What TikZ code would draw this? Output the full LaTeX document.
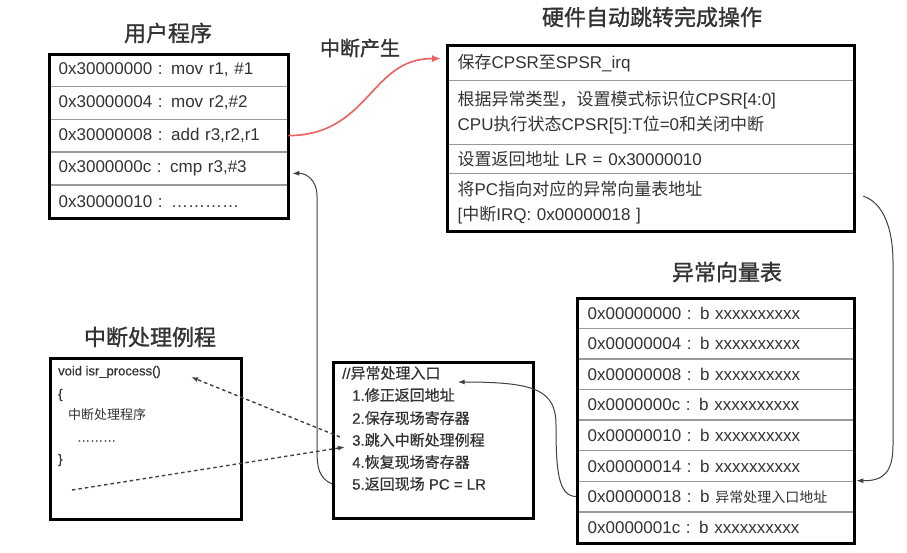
\documentclass[tikz,border=0pt]{standalone}
\usepackage{fontspec}
\setmainfont{Liberation Sans}
\newfontfamily\cjk{Noto Sans CJK SC}
\newfontfamily\cjkb[FakeBold=1.2]{Noto Sans CJK SC}
\newfontfamily\cjkm[FakeBold=0.6]{Noto Sans CJK SC}
\newfontfamily\latm[FakeBold=0.6]{Liberation Sans}
\usetikzlibrary{arrows.meta,calc}
\newcommand\zh[1]{{\cjk #1}}
\newcommand\zhm[1]{{\cjkm #1}}
\definecolor{tx}{HTML}{333333}
\definecolor{redline}{RGB}{238,95,95}
\begin{document}
\begin{tikzpicture}[x=1pt,y=-1pt,
  frame/.style={draw=black, line width=2.6pt, inner sep=0pt, anchor=north west},
  rowb/.style={draw=black!40, line width=1.3pt, anchor=north west, inner xsep=10pt, inner ysep=0pt, align=left, text=tx, font=\fontsize{17}{25}\selectfont},
  upr/.style={rowb, text width=219pt, minimum height=32.8pt},
  hwr/.style={rowb, inner xsep=11pt, text width=385pt},
  vtr/.style={rowb, inner xsep=11pt, text width=255pt, minimum height=30.6pt},
  title/.style={text=tx, font=\cjkb\fontsize{22}{22}\selectfont, inner sep=0pt},
  codetxt/.style={anchor=west, inner sep=0pt, text=tx, font=\latm\fontsize{15}{15}\selectfont},
  isrtxt/.style={anchor=west, inner sep=0pt, text=tx, font=\latm\fontsize{13}{13}\selectfont},
  conn/.style={draw=black!75, line width=1pt, -{Latex[length=7pt,width=5pt]}},
  dconn/.style={draw=black!75, line width=1.4pt, dash pattern=on 3.5pt off 3pt, -{Latex[length=7pt,width=5pt]}},
  redconn/.style={draw=redline, line width=1.6pt, -{Latex[length=9pt,width=7pt]}}
]
\useasboundingbox[fill=white] (0,0) rectangle (907,552);

% ---------- titles ----------
\node[title] (tup) at (168,33) {用户程序};
\node[title] (thw) at (652,17) {硬件自动跳转完成操作};
\node[title] (tvt) at (727,272) {异常向量表};
\node[title] (tisr) at (150,337) {中断处理例程};
\node[title, font=\cjkb\fontsize{20}{20}\selectfont] (tirq) at (360,48) {中断产生};

% ---------- user program ----------
\node[upr] (up1) at (48,53) {0x30000000 : mov r1, \#1};
\node[upr] (up2) at (48,85.8) {0x30000004 : mov r2,\#2};
\node[upr] (up3) at (48,118.6) {0x30000008 : add r3,r2,r1};
\node[upr] (up4) at (48,151.4) {0x3000000c : cmp r3,\#3};
\node[upr] (up5) at (48,184.2) {0x30000010 : …………};
\node[frame, minimum width=239pt, minimum height=164pt] (up) at (48,53) {};

% ---------- hardware operations ----------
\node[hwr, minimum height=36pt] (hw1) at (446,44) {\zh{保存}CPSR\zh{至}SPSR\_irq};
\node[hwr, minimum height=64pt] (hw2) at (446,80) {\zh{根据异常类型，设置模式标识位}CPSR[4:0]\\CPU\zh{执行状态}CPSR[5]:T\zh{位}=0\zh{和关闭中断}};
\node[hwr, minimum height=29pt] (hw3) at (446,144) {\zh{设置返回地址} LR = 0x30000010};
\node[hwr, minimum height=57pt] (hw4) at (446,173) {\zh{将}PC\zh{指向对应的异常向量表地址}\\{[}\zh{中断}IRQ: 0x00000018 ]};
\node[frame, minimum width=407pt, minimum height=186pt] (hw) at (446,44) {};

% ---------- vector table ----------
\node[vtr] (vt1) at (576,297) {0x00000000 : b xxxxxxxxxx};
\node[vtr] (vt2) at (576,327.6) {0x00000004 : b xxxxxxxxxx};
\node[vtr] (vt3) at (576,358.2) {0x00000008 : b xxxxxxxxxx};
\node[vtr] (vt4) at (576,388.8) {0x0000000c : b xxxxxxxxxx};
\node[vtr] (vt5) at (576,419.4) {0x00000010 : b xxxxxxxxxx};
\node[vtr] (vt6) at (576,450) {0x00000014 : b xxxxxxxxxx};
\node[vtr] (vt7) at (576,480.6) {0x00000018 : b {\cjk\fontsize{14}{14}\selectfont 异常处理入口地址}};
\node[vtr] (vt8) at (576,511.2) {0x0000001c : b xxxxxxxxxx};
\node[frame, minimum width=277pt, minimum height=245pt] (vt) at (576,297) {};

% ---------- ISR ----------
\node[frame, minimum width=191pt, minimum height=161pt] (isr) at (49,357) {};
\node[isrtxt] (isr0) at (58,372) {void isr\_process()};
\node[isrtxt] (isr1) at (58,395) {\{};
\node[isrtxt, font=\cjk\fontsize{13}{13}\selectfont] (isr2) at (68,415) {中断处理程序};
\node[isrtxt] (isr3) at (77,441) {………};
\node[isrtxt] (isr4) at (58,460) {\}};

% ---------- exception handler ----------
\node[frame, minimum width=200pt, minimum height=156pt] (hd) at (332,361) {};
\node[codetxt] (hd0) at (342,373) {//\zhm{异常处理入口}};
\node[codetxt] (hd1) at (352,395) {1.\zhm{修正返回地址}};
\node[codetxt] (hd2) at (352,418) {2.\zhm{保存现场寄存器}};
\node[codetxt] (hd3) at (352,440) {3.\zhm{跳入中断处理例程}};
\node[codetxt] (hd4) at (352,462) {4.\zhm{恢复现场寄存器}};
\node[codetxt] (hd5) at (352,484) {5.\zhm{返回现场} PC = LR};

% ---------- connectors ----------
\draw[redconn] (up3.east) .. controls (370,135) and (370,58) .. ($(hw1.west)+(-5,-4)$);

\draw[conn] ($(hw4.east)+(9,-6)$) .. controls (884,203) and (893,230) .. (893,262)
  -- (893,445) .. controls (893,474) and (882,481) .. ($(vt7.north east)+(2,0)$);

\draw[conn] (vt7.west) .. controls (558,496) and (556,470) .. (556,425)
  .. controls (556,390) and (535,382) .. ($(hd0.east)+(17,9)$);

\draw[conn] (hd5.west -| hd.west) .. controls (319,478) and (317,468) .. (317,450)
  -- (317,196) .. controls (317,180) and (306,173) .. ($(up4.east)+(4,5)$);

\draw[dconn] ($(hd3.west)+(-12,-3)$) -- ($(isr0.east)+(30,5)$);
\coordinate (dstart) at (72,490);
\draw[dconn] (dstart) -- ($(hd3.west)+(-7,7)$);
\end{tikzpicture}
\end{document}
